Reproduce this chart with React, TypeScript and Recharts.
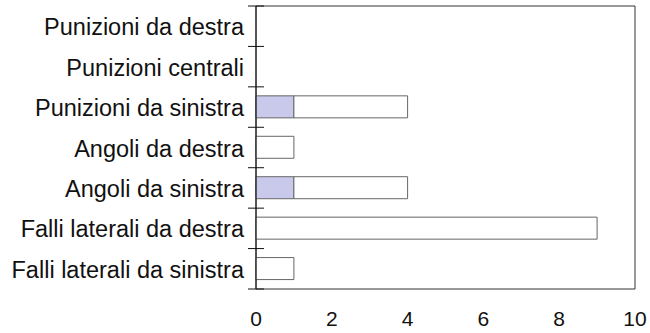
import { BarChart, Bar, XAxis, YAxis, ReferenceArea } from "recharts";

const categories = [
  "Punizioni da destra",
  "Punizioni centrali",
  "Punizioni da sinistra",
  "Angoli da destra",
  "Angoli da sinistra",
  "Falli laterali da destra",
  "Falli laterali da sinistra",
];
const shadedValues = [0, 0, 1, 0, 1, 0, 0];
const plainValues = [0, 0, 3, 1, 3, 9, 1];
const xTicks = [0, 2, 4, 6, 8, 10];

const W = 650;
const H = 333;
const PLOT_LEFT = 256;
const PLOT_TOP = 6;
const PLOT_BOTTOM = 289;
const BAND = (PLOT_BOTTOM - PLOT_TOP) / categories.length;
const FONT = "'Liberation Sans', Arial, sans-serif";

const data = categories.map((name, i) => ({
  name,
  shaded: shadedValues[i],
  plain: plainValues[i],
}));

function CategoryTick(props: any) {
  const { y, payload, index } = props;
  const last = index === categories.length - 1;
  return (
    <g>
      <text
        x={PLOT_LEFT - 12}
        y={y + 1}
        textAnchor="end"
        dominantBaseline="central"
        fontSize={23.5}
        fontFamily={FONT}
        fill="#111"
      >
        {payload.value}
      </text>
      <line
        x1={PLOT_LEFT - 8}
        x2={PLOT_LEFT + 8}
        y1={y - BAND / 2}
        y2={y - BAND / 2}
        stroke="#111"
      />
      {last && (
        <line
          x1={PLOT_LEFT - 8}
          x2={PLOT_LEFT + 8}
          y1={y + BAND / 2}
          y2={y + BAND / 2}
          stroke="#111"
        />
      )}
    </g>
  );
}

export default function App() {
  return (
    <div style={{ position: "absolute", left: 0, top: 0, width: W, height: H, background: "#fff" }}>
      <BarChart
        width={W}
        height={H}
        data={data}
        layout="vertical"
        margin={{ top: PLOT_TOP, right: 15, bottom: 0, left: 0 }}
        barSize={22}
      >
        <XAxis
          type="number"
          domain={[0, 10]}
          ticks={xTicks}
          axisLine={false}
          tickLine={false}
          height={H - PLOT_BOTTOM}
          tickMargin={16}
          tick={{ fontSize: 21, fill: "#111", fontFamily: FONT }}
          interval={0}
        />
        <YAxis
          type="category"
          dataKey="name"
          width={PLOT_LEFT}
          axisLine={{ stroke: "#111" }}
          tickLine={false}
          tick={<CategoryTick />}
          interval={0}
        />
        <ReferenceArea x1={0} x2={10} fill="none" stroke="#333" strokeWidth={1} />
        <Bar dataKey="shaded" stackId="a" fill="#c9c9ec" stroke="#666" isAnimationActive={false} />
        <Bar dataKey="plain" stackId="a" fill="#ffffff" stroke="#666" isAnimationActive={false} />
      </BarChart>
    </div>
  );
}
